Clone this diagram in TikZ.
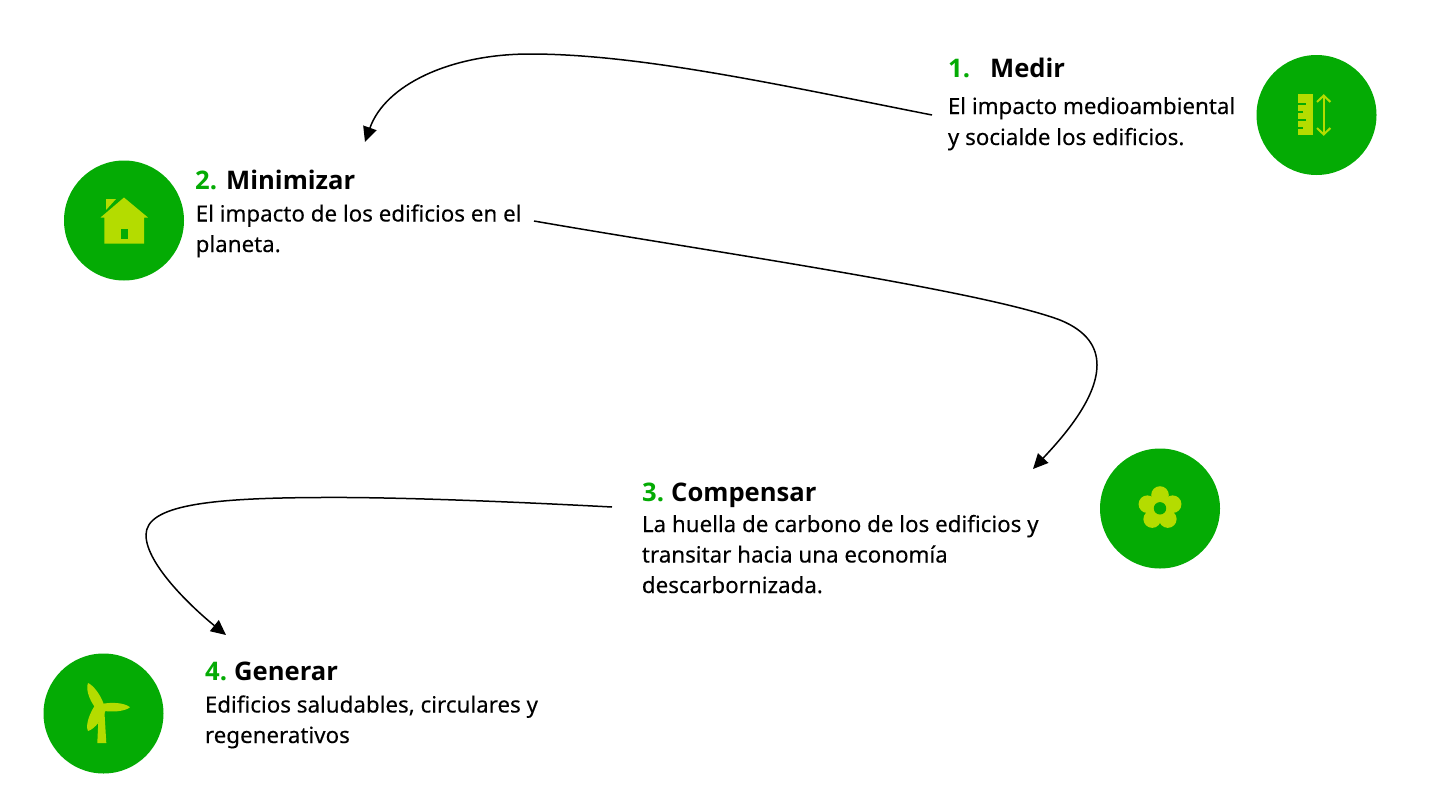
\documentclass[tikz,border=0pt]{standalone}
\usepackage{fontspec}
\setmainfont{Noto Sans}[FakeBold=0.15]
\newfontfamily\headfont{Open Sans}
\usetikzlibrary{arrows.meta}
\definecolor{gcirc}{HTML}{04AB04}
\definecolor{gicon}{HTML}{B4DC00}
\tikzset{
  every picture/.style={x=1pt,y=-1pt},
  badge/.style={circle,fill=gcirc,minimum size=120pt,inner sep=0pt},
  num/.style={anchor=base west,inner sep=0pt,text=gcirc,font=\headfont\fontsize{25.6}{30}\selectfont\bfseries},
  ttl/.style={anchor=base west,inner sep=0pt,font=\headfont\fontsize{25.6}{30}\selectfont\bfseries},
  txt/.style={anchor=base west,inner sep=0pt,font=\fontsize{22.35}{30.5}\selectfont},
  flow/.style={draw=black,line width=1.5pt,-{Triangle[length=15pt,width=14pt]}},
  ico/.style={fill=gicon,draw=none},
  icohole/.style={fill=gcirc,draw=none}
}
\begin{document}
\begin{tikzpicture}
\useasboundingbox (0,0) rectangle (1430,809);
% badges
\node[badge] (b1) at (1316.5,115) {};
\node[badge] (b2) at (124,220.5) {};
\node[badge] (b3) at (1160,508.5) {};
\node[badge] (b4) at (103.5,713.5) {};
% ruler icon
\fill[ico] (1298,93.5) rectangle (1313,135);
\foreach \yy/\ll in {104.3/1306,112.3/1303,120/1306,128.3/1303}{\fill[icohole] (1298,\yy-0.9) rectangle (\ll,\yy+0.9);}
\draw[gicon,line width=2pt] (1323.7,96) -- (1323.7,134);
\draw[gicon,line width=2pt] (1317,102) -- (1323.7,95.5) -- (1330.4,102);
\draw[gicon,line width=2pt] (1317,128) -- (1323.7,134.5) -- (1330.4,128);
% house icon
\fill[ico] (106,199) -- (116,199) -- (106,210) -- cycle;
\fill[ico] (124,197.5) -- (148,217.5) -- (144,217.5) -- (144,243.5) -- (104.3,243.5) -- (104.3,217.5) -- (100.5,217.5) -- cycle;
\fill[icohole] (121,228.5) rectangle (127.7,238.5);
% flower icon
\foreach \aa in {90,162,234,306,18}{\fill[ico] (1160,508.3) ++(\aa:-13.3) circle (8.8);}
\fill[ico] (1160,508.3) circle (10);
\fill[icohole] (1160,508.3) circle (6.2);
% turbine icon
\fill[ico] (97.3,743) -- (98.5,718) -- (102,713) -- (104.5,713) -- (106.3,743) -- cycle;
\fill[ico] (101,704) .. controls (112,702) and (124,702.5) .. (130,707.2) .. controls (125,711.5) and (112,712.5) .. (101,710.5) -- cycle;
\fill[ico] (104,705) .. controls (101,695) and (93,685) .. (88,683) .. controls (85,690) and (91,704) .. (98,710.5) -- cycle;
\fill[ico] (96.5,703) .. controls (90,712) and (85,725) .. (88,731) .. controls (95,729) and (103,718) .. (106,709.5) -- cycle;
% texts
\node[num] (n1) at (948,77) {1.};
\node[ttl] (t1) at (990,77) {Medir};
\node[txt] (d1a) at (947.7,114) {El impacto medioambiental};
\node[txt] (d1b) at (947.7,145) {y socialde los edificios.};
\node[num] (n2) at (195,189) {2.};
\node[ttl] (t2) at (226,189) {Minimizar};
\node[txt] (d2a) at (195.5,221.5) {El impacto de los edificios en el};
\node[txt] (d2b) at (195.5,252) {planeta.};
\node[num] (n3) at (642,501) {3.};
\node[ttl] (t3) at (671,501) {Compensar};
\node[txt] (d3a) at (641.7,532) {La huella de carbono de los edificios y};
\node[txt] (d3b) at (641.7,562.5) {transitar hacia una economía};
\node[txt] (d3c) at (641.7,593) {descarbornizada.};
\node[num] (n4) at (205,680) {4.};
\node[ttl] (t4) at (234,680) {Generar};
\node[txt] (d4a) at (204.7,712.5) {Edificios saludables, circulares y};
\node[txt] (d4b) at (204.7,743) {regenerativos};
% connector ends
\coordinate (s1) at (932,115);
\coordinate (e1) at (365,142);
\coordinate (s2) at (534,221);
\coordinate (e2) at (1033,469);
\coordinate (s3) at (612,507);
\coordinate (e3) at (226,635);
\draw[flow] (s1) .. controls (780,85) and (640,54) .. (530,54) .. controls (450,54) and (385,85) .. (e1);
\draw[flow] (s2) .. controls (700,250) and (980,290) .. (1060,320) .. controls (1087,331) and (1097,347) .. (1097,365) .. controls (1097,400) and (1060,440) .. (e2);
\draw[flow] (s3) .. controls (480,500) and (380,497) .. (320,497.5) .. controls (210,498) and (146,505) .. (146,535) .. controls (146,565) and (195,610) .. (e3);
\end{tikzpicture}
\end{document}
